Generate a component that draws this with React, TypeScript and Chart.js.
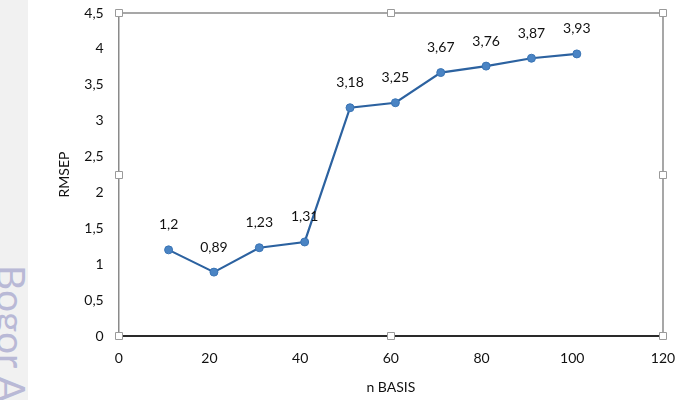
import React, { useEffect, useRef } from "react";
import { Chart, registerables } from "chart.js";

Chart.register(...registerables);

const nBasis = [11, 21, 31, 41, 51, 61, 71, 81, 91, 101];
const rmsep = [1.2, 0.89, 1.23, 1.31, 3.18, 3.25, 3.67, 3.76, 3.87, 3.93];
const xTicks = [0, 20, 40, 60, 80, 100, 120];
const yTicks = [0, 0.5, 1, 1.5, 2, 2.5, 3, 3.5, 4, 4.5];
const xTitle = "n BASIS";
const yTitle = "RMSEP";
const watermark = "Bogor Agricultural University";

const FONT = "Lato, 'Noto Sans', sans-serif";
const fmt = (v: number) => String(v).replace(".", ",");

const framePlugin = {
  id: "frame",
  afterDraw(chart: any) {
    const { ctx, chartArea } = chart;
    const { left, right, top, bottom } = chartArea;
    ctx.save();
    ctx.strokeStyle = "#8a8a8a";
    ctx.lineWidth = 1.5;
    ctx.beginPath();
    ctx.moveTo(left, top);
    ctx.lineTo(right, top);
    ctx.lineTo(right, bottom);
    ctx.stroke();
    const mx = (left + right) / 2;
    const my = (top + bottom) / 2;
    const pts = [
      [left, top], [mx, top], [right, top],
      [left, my], [right, my],
      [left, bottom], [mx, bottom], [right, bottom],
    ];
    ctx.fillStyle = "#ffffff";
    ctx.strokeStyle = "#9a9a9a";
    ctx.lineWidth = 1;
    for (const [x, y] of pts) {
      ctx.beginPath();
      ctx.rect(Math.round(x) - 3.5, Math.round(y) - 3.5, 7, 7);
      ctx.fill();
      ctx.stroke();
    }
    ctx.restore();
  },
};

const labelPlugin = {
  id: "pointLabels",
  afterDatasetsDraw(chart: any) {
    const { ctx } = chart;
    const meta = chart.getDatasetMeta(0);
    ctx.save();
    ctx.font = `14px ${FONT}`;
    ctx.fillStyle = "#111";
    ctx.textAlign = "center";
    ctx.textBaseline = "middle";
    meta.data.forEach((el: any, i: number) => {
      ctx.fillText(fmt(rmsep[i]), el.x, el.y - 25);
    });
    ctx.restore();
  },
};

export default function App() {
  const ref = useRef<HTMLCanvasElement>(null);
  useEffect(() => {
    if (!ref.current) return;
    const chart = new Chart(ref.current, {
      type: "scatter",
      data: {
        datasets: [
          {
            data: nBasis.map((x, i) => ({ x, y: rmsep[i] })),
            showLine: true,
            borderColor: "#2c62a0",
            borderWidth: 2.2,
            backgroundColor: "#4a84c4",
            pointBackgroundColor: "#4a84c4",
            pointBorderColor: "#3a74b4",
            pointBorderWidth: 1,
            pointRadius: 4,
          },
        ],
      },
      options: {
        animation: false,
        responsive: false,
        layout: { padding: { left: 0, top: 13, right: 14, bottom: 0 } },
        plugins: {
          legend: { display: false },
          tooltip: { enabled: false },
        },
        scales: {
          x: {
            type: "linear",
            min: 0,
            max: 120,
            afterBuildTicks: (s: any) => {
              s.ticks = xTicks.map((v) => ({ value: v }));
            },
            afterFit: (s: any) => {
              s.height = 64;
              s.paddingLeft = 0;
              s.paddingRight = 0;
            },
            grid: { display: false, drawTicks: false },
            border: { display: true, color: "#2a2a2a", width: 2 },
            ticks: {
              padding: 14,
              color: "#111",
              font: { family: FONT, size: 14 },
              maxRotation: 0,
              callback: (v: any) => fmt(v),
            },
            title: {
              display: true,
              text: xTitle,
              color: "#111",
              font: { family: FONT, size: 14 },
              padding: { top: 0, bottom: 4 },
            },
          },
          y: {
            type: "linear",
            min: 0,
            max: 4.5,
            afterBuildTicks: (s: any) => {
              s.ticks = yTicks.map((v) => ({ value: v }));
            },
            afterFit: (s: any) => {
              s.width = 118.7;
              s.paddingTop = 0;
              s.paddingBottom = 0;
            },
            grid: { display: false, drawTicks: false },
            border: { display: true, color: "#8a8a8a", width: 1.5 },
            ticks: {
              padding: 15,
              color: "#111",
              font: { family: FONT, size: 14 },
              callback: (v: any) => fmt(v),
            },
            title: {
              display: true,
              text: yTitle,
              color: "#111",
              font: { family: FONT, size: 14 },
              padding: { top: 56, bottom: 0 },
            },
          },
        },
      },
      plugins: [labelPlugin, framePlugin],
    } as any);
    return () => chart.destroy();
  }, []);

  return (
    <div
      style={{
        position: "fixed",
        left: 0,
        top: 0,
        width: 677,
        height: 400,
        background: "#ffffff",
        overflow: "hidden",
      }}
    >
      <canvas ref={ref} width={677} height={400} style={{ position: "absolute", left: 0, top: 0 }} />
      <div
        style={{
          position: "absolute",
          left: 0,
          top: 0,
          width: 28,
          height: 400,
          background: "#f1f1f1",
          overflow: "hidden",
        }}
      >
        <span
          style={{
            position: "absolute",
            left: 31,
            top: 265,
            transformOrigin: "0 0",
            transform: "rotate(90deg)",
            whiteSpace: "nowrap",
            fontFamily: FONT,
            fontWeight: 400,
            fontSize: 39,
            lineHeight: "39px",
            color: "#b9b9d6",
          }}
        >
          {watermark}
        </span>
      </div>
    </div>
  );
}
